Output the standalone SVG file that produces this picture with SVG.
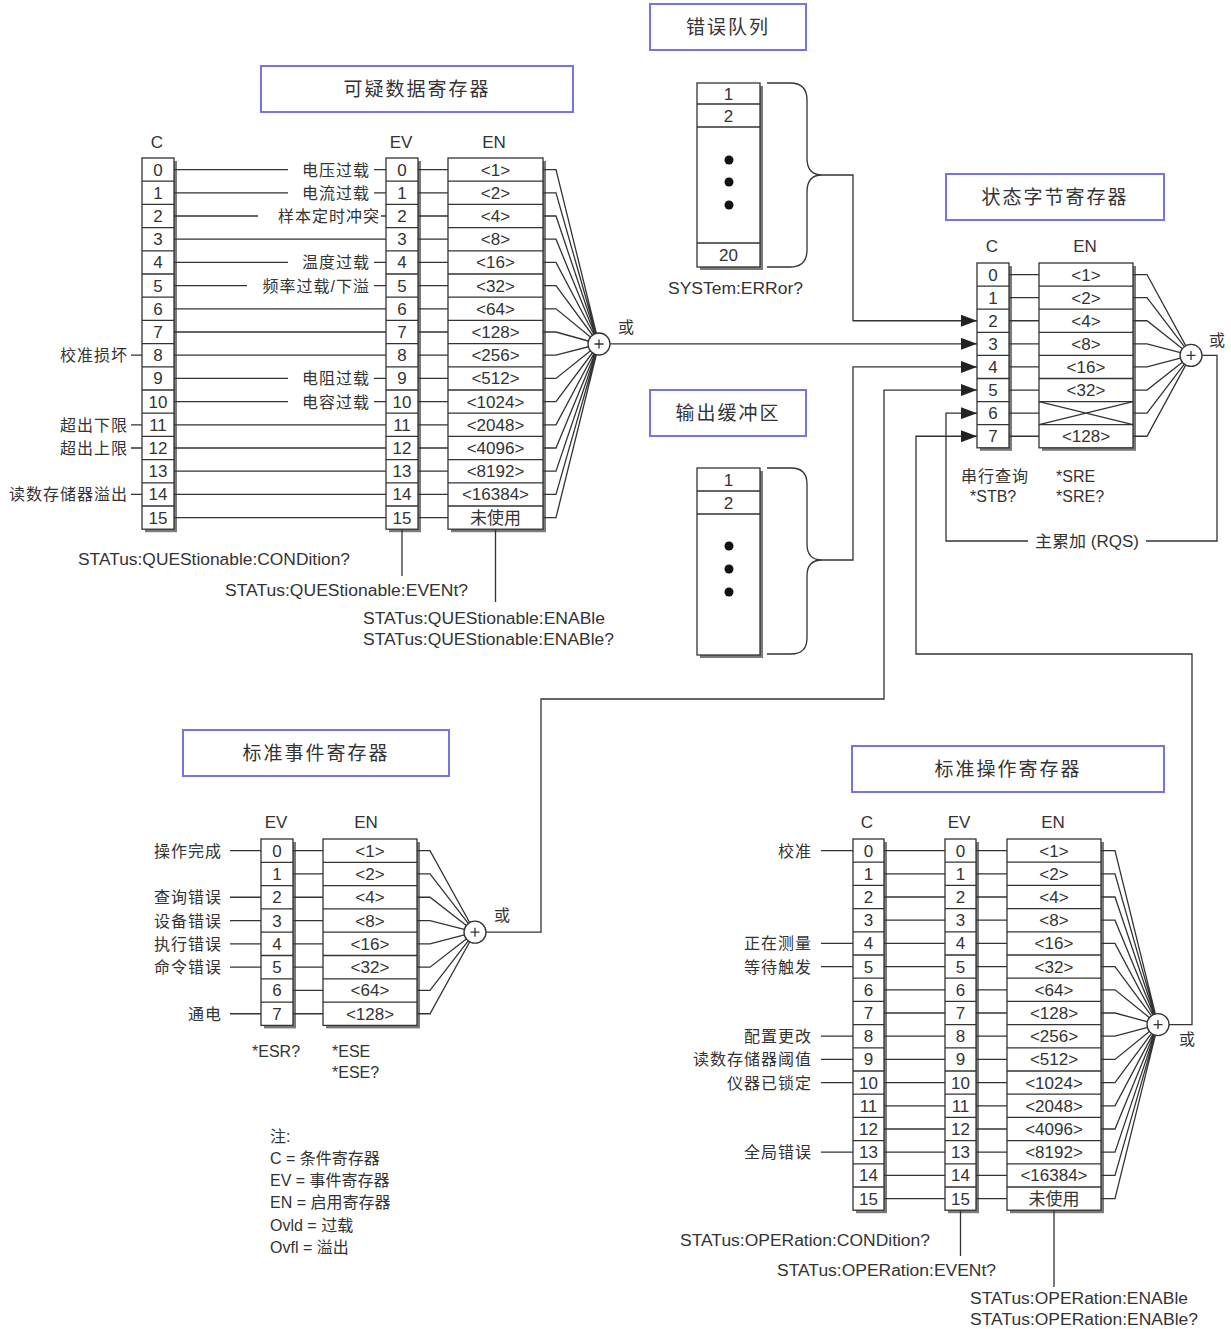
<svg xmlns="http://www.w3.org/2000/svg" width="1231" height="1329" viewBox="0 0 1231 1329">
<style>
text{font-family:"Liberation Sans","Noto Sans CJK SC",Arial,sans-serif;font-size:16px;fill:#333}
.m{text-anchor:middle;font-size:17px}
.e{text-anchor:end}
.zh{letter-spacing:1px}
.ti{font-size:19px;letter-spacing:2px;text-anchor:middle}
.ln{stroke:#333;stroke-width:1.3;fill:none}
.bx{fill:#fff;stroke:#333;stroke-width:1.3}
.sh{fill:#7a7a7a}
.tb{fill:#fff;stroke:#7474e4;stroke-width:2}
.or{fill:#fff;stroke:#333;stroke-width:1.3}
.dot{fill:#111}
</style>
<defs>
<marker id="ah" viewBox="0 0 16 12" refX="16" refY="6" markerWidth="16" markerHeight="12" markerUnits="userSpaceOnUse" orient="auto"><path d="M0,0L16,6L0,12z" fill="#222"/></marker>
</defs>
<rect width="1231" height="1329" fill="#fff"/>

<!-- Title boxes -->
<g id="title-questionable"><rect class="tb" x="261" y="66" width="312" height="46"/><text class="ti" x="417" y="96">可疑数据寄存器</text></g>
<g id="title-error-queue"><rect class="tb" x="650" y="4" width="156" height="46"/><text class="ti" x="728" y="34">错误队列</text></g>
<g id="title-status-byte"><rect class="tb" x="946" y="174" width="218" height="46"/><text class="ti" x="1055" y="204">状态字节寄存器</text></g>
<g id="title-output-buffer"><rect class="tb" x="650" y="390" width="156" height="46"/><text class="ti" x="728" y="420">输出缓冲区</text></g>
<g id="title-std-event"><rect class="tb" x="183" y="730" width="266" height="46"/><text class="ti" x="316" y="760">标准事件寄存器</text></g>
<g id="title-std-operation"><rect class="tb" x="852" y="746" width="312" height="46"/><text class="ti" x="1008" y="776">标准操作寄存器</text></g>

<!-- Questionable data register -->
<g id="questionable-register">
<text class="m" x="157" y="148">C</text><text class="m" x="401" y="148">EV</text><text class="m" x="494" y="148">EN</text>
<rect class="sh" x="145" y="161" width="32" height="371.2"/><rect class="bx" x="142" y="158" width="32" height="371.2"/>
<rect class="sh" x="389" y="161" width="32" height="371.2"/><rect class="bx" x="386" y="158" width="32" height="371.2"/>
<rect class="sh" x="451" y="161" width="95" height="371.2"/><rect class="bx" x="448" y="158" width="95" height="371.2"/>
<path class="ln" d="M142,181.2h32m-32,23.2h32m-32,23.2h32m-32,23.2h32m-32,23.2h32m-32,23.2h32m-32,23.2h32m-32,23.2h32m-32,23.2h32m-32,23.2h32m-32,23.2h32m-32,23.2h32m-32,23.2h32m-32,23.2h32m-32,23.2h32"/>
<path class="ln" d="M386,181.2h32m-32,23.2h32m-32,23.2h32m-32,23.2h32m-32,23.2h32m-32,23.2h32m-32,23.2h32m-32,23.2h32m-32,23.2h32m-32,23.2h32m-32,23.2h32m-32,23.2h32m-32,23.2h32m-32,23.2h32m-32,23.2h32"/>
<path class="ln" d="M448,181.2h95m-95,23.2h95m-95,23.2h95m-95,23.2h95m-95,23.2h95m-95,23.2h95m-95,23.2h95m-95,23.2h95m-95,23.2h95m-95,23.2h95m-95,23.2h95m-95,23.2h95m-95,23.2h95m-95,23.2h95m-95,23.2h95"/>
<text class="m" x="158" y="175.6">0</text><text class="m" x="158" y="198.8">1</text><text class="m" x="158" y="222">2</text><text class="m" x="158" y="245.2">3</text><text class="m" x="158" y="268.4">4</text><text class="m" x="158" y="291.6">5</text><text class="m" x="158" y="314.8">6</text><text class="m" x="158" y="338">7</text><text class="m" x="158" y="361.2">8</text><text class="m" x="158" y="384.4">9</text><text class="m" x="158" y="407.6">10</text><text class="m" x="158" y="430.8">11</text><text class="m" x="158" y="454">12</text><text class="m" x="158" y="477.2">13</text><text class="m" x="158" y="500.4">14</text><text class="m" x="158" y="523.6">15</text>
<text class="m" x="402" y="175.6">0</text><text class="m" x="402" y="198.8">1</text><text class="m" x="402" y="222">2</text><text class="m" x="402" y="245.2">3</text><text class="m" x="402" y="268.4">4</text><text class="m" x="402" y="291.6">5</text><text class="m" x="402" y="314.8">6</text><text class="m" x="402" y="338">7</text><text class="m" x="402" y="361.2">8</text><text class="m" x="402" y="384.4">9</text><text class="m" x="402" y="407.6">10</text><text class="m" x="402" y="430.8">11</text><text class="m" x="402" y="454">12</text><text class="m" x="402" y="477.2">13</text><text class="m" x="402" y="500.4">14</text><text class="m" x="402" y="523.6">15</text>
<text class="m" x="495.5" y="175.6">&lt;1&gt;</text><text class="m" x="495.5" y="198.8">&lt;2&gt;</text><text class="m" x="495.5" y="222">&lt;4&gt;</text><text class="m" x="495.5" y="245.2">&lt;8&gt;</text><text class="m" x="495.5" y="268.4">&lt;16&gt;</text><text class="m" x="495.5" y="291.6">&lt;32&gt;</text><text class="m" x="495.5" y="314.8">&lt;64&gt;</text><text class="m" x="495.5" y="338">&lt;128&gt;</text><text class="m" x="495.5" y="361.2">&lt;256&gt;</text><text class="m" x="495.5" y="384.4">&lt;512&gt;</text><text class="m" x="495.5" y="407.6">&lt;1024&gt;</text><text class="m" x="495.5" y="430.8">&lt;2048&gt;</text><text class="m" x="495.5" y="454">&lt;4096&gt;</text><text class="m" x="495.5" y="477.2">&lt;8192&gt;</text><text class="m" x="495.5" y="500.4">&lt;16384&gt;</text><text class="m" x="495.5" y="523.6">未使用</text>
<text class="e zh" x="370" y="175.6">电压过载</text>
<text class="e zh" x="370" y="198.8">电流过载</text>
<text class="e zh" x="380" y="222">样本定时冲突</text>
<text class="e zh" x="370" y="268.4">温度过载</text>
<text class="e zh" x="370" y="291.6">频率过载/下溢</text>
<text class="e zh" x="370" y="384.4">电阻过载</text>
<text class="e zh" x="370" y="407.6">电容过载</text>
<text class="e zh" x="128" y="361.2">校准损坏</text>
<text class="e zh" x="128" y="430.8">超出下限</text>
<text class="e zh" x="128" y="454">超出上限</text>
<text class="e zh" x="128" y="500.4">读数存储器溢出</text>
<text x="78" y="565" textLength="272" lengthAdjust="spacingAndGlyphs">STATus:QUEStionable:CONDition?</text>
<text x="225" y="596" textLength="243" lengthAdjust="spacingAndGlyphs">STATus:QUEStionable:EVENt?</text>
<text x="363" y="624" textLength="242" lengthAdjust="spacingAndGlyphs">STATus:QUEStionable:ENABle</text>
<text x="363" y="645" textLength="251" lengthAdjust="spacingAndGlyphs">STATus:QUEStionable:ENABle?</text>
<text x="618" y="333">或</text>
</g>

<!-- Error queue -->
<g id="error-queue">
<rect class="sh" x="700" y="86" width="63" height="184"/><rect class="bx" x="697" y="83" width="63" height="184"/>
<path class="ln" d="M697,104h63M697,127h63M697,243h63"/>
<text class="m" x="728.5" y="100">1</text><text class="m" x="728.5" y="121.5">2</text><text class="m" x="728.5" y="261">20</text>
<circle class="dot" cx="729" cy="160" r="4.5"/><circle class="dot" cx="729" cy="182" r="4.5"/><circle class="dot" cx="729" cy="205" r="4.5"/>
<path class="ln" d="M767,83H790Q807,83 807,100V158Q807,175 822,175Q807,175 807,192V250Q807,267 790,267H767"/>
<text x="668" y="294" textLength="135" lengthAdjust="spacingAndGlyphs">SYSTem:ERRor?</text>
</g>

<!-- Output buffer -->
<g id="output-buffer">
<rect class="sh" x="700" y="471" width="63" height="187"/><rect class="bx" x="697" y="468" width="63" height="187"/>
<path class="ln" d="M697,491h63M697,514h63"/>
<text class="m" x="728.5" y="485.5">1</text><text class="m" x="728.5" y="508.5">2</text>
<circle class="dot" cx="729" cy="546" r="4.5"/><circle class="dot" cx="729" cy="569" r="4.5"/><circle class="dot" cx="729" cy="592" r="4.5"/>
<path class="ln" d="M767,468H791Q807,468 807,484V544Q807,560 822,560Q807,560 807,576V638Q807,654 791,654H767"/>
</g>

<!-- Status byte register -->
<g id="status-byte-register">
<text class="m" x="992" y="252">C</text><text class="m" x="1085" y="252">EN</text>
<rect class="sh" x="980" y="266" width="32" height="184.8"/><rect class="bx" x="977" y="263" width="32" height="184.8"/>
<rect class="sh" x="1042" y="266" width="94" height="184.8"/><rect class="bx" x="1039" y="263" width="94" height="184.8"/>
<path class="ln" d="M977,286.1h32m-32,23.1h32m-32,23.1h32m-32,23.1h32m-32,23.1h32m-32,23.1h32m-32,23.1h32"/>
<path class="ln" d="M1039,286.1h94m-94,23.1h94m-94,23.1h94m-94,23.1h94m-94,23.1h94m-94,23.1h94m-94,23.1h94"/>
<path class="ln" d="M1039,401.6L1133,424.7M1039,424.7L1133,401.6"/>
<text class="m" x="993" y="280.5">0</text><text class="m" x="993" y="303.6">1</text><text class="m" x="993" y="326.7">2</text><text class="m" x="993" y="349.8">3</text><text class="m" x="993" y="372.9">4</text><text class="m" x="993" y="396">5</text><text class="m" x="993" y="419.1">6</text><text class="m" x="993" y="442.2">7</text>
<text class="m" x="1086" y="280.5">&lt;1&gt;</text><text class="m" x="1086" y="303.6">&lt;2&gt;</text><text class="m" x="1086" y="326.7">&lt;4&gt;</text><text class="m" x="1086" y="349.8">&lt;8&gt;</text><text class="m" x="1086" y="372.9">&lt;16&gt;</text><text class="m" x="1086" y="396">&lt;32&gt;</text><text class="m" x="1086" y="442.2">&lt;128&gt;</text>
<text class="zh" x="961" y="482">串行查询</text>
<text x="970" y="502">*STB?</text>
<text x="1056" y="482">*SRE</text>
<text x="1056" y="502">*SRE?</text>
<text x="1209" y="346">或</text>
</g>

<!-- Standard event register -->
<g id="std-event-register">
<text class="m" x="276" y="828">EV</text><text class="m" x="366" y="828">EN</text>
<rect class="sh" x="264" y="842" width="32" height="186.4"/><rect class="bx" x="261" y="839" width="32" height="186.4"/>
<rect class="sh" x="326" y="842" width="94" height="186.4"/><rect class="bx" x="323" y="839" width="94" height="186.4"/>
<path class="ln" d="M261,862.3h32m-32,23.3h32m-32,23.3h32m-32,23.3h32m-32,23.3h32m-32,23.3h32m-32,23.3h32"/>
<path class="ln" d="M323,862.3h94m-94,23.3h94m-94,23.3h94m-94,23.3h94m-94,23.3h94m-94,23.3h94m-94,23.3h94"/>
<text class="m" x="277" y="856.6">0</text><text class="m" x="277" y="879.9">1</text><text class="m" x="277" y="903.2">2</text><text class="m" x="277" y="926.5">3</text><text class="m" x="277" y="949.8">4</text><text class="m" x="277" y="973.1">5</text><text class="m" x="277" y="996.4">6</text><text class="m" x="277" y="1019.7">7</text>
<text class="m" x="370" y="856.6">&lt;1&gt;</text><text class="m" x="370" y="879.9">&lt;2&gt;</text><text class="m" x="370" y="903.2">&lt;4&gt;</text><text class="m" x="370" y="926.5">&lt;8&gt;</text><text class="m" x="370" y="949.8">&lt;16&gt;</text><text class="m" x="370" y="973.1">&lt;32&gt;</text><text class="m" x="370" y="996.4">&lt;64&gt;</text><text class="m" x="370" y="1019.7">&lt;128&gt;</text>
<text class="e zh" x="222" y="856.65">操作完成</text>
<text class="e zh" x="222" y="903.25">查询错误</text>
<text class="e zh" x="222" y="926.55">设备错误</text>
<text class="e zh" x="222" y="949.85">执行错误</text>
<text class="e zh" x="222" y="973.15">命令错误</text>
<text class="e zh" x="222" y="1019.75">通电</text>
<path class="ln" d="M230,850.65H261M230,897.25H261M230,920.55H261M230,943.85H261M230,967.15H261M230,1013.75H261"/>
<text x="252" y="1057">*ESR?</text>
<text x="332" y="1057">*ESE</text>
<text x="332" y="1078">*ESE?</text>
<text x="494" y="921">或</text>
</g>

<!-- Standard operation register -->
<g id="std-operation-register">
<text class="m" x="867" y="828">C</text><text class="m" x="959" y="828">EV</text><text class="m" x="1053" y="828">EN</text>
<rect class="sh" x="856" y="842" width="31" height="371.2"/><rect class="bx" x="853" y="839" width="31" height="371.2"/>
<rect class="sh" x="948" y="842" width="31" height="371.2"/><rect class="bx" x="945" y="839" width="31" height="371.2"/>
<rect class="sh" x="1010" y="842" width="94" height="371.2"/><rect class="bx" x="1007" y="839" width="94" height="371.2"/>
<path class="ln" d="M853,862.2h31m-31,23.2h31m-31,23.2h31m-31,23.2h31m-31,23.2h31m-31,23.2h31m-31,23.2h31m-31,23.2h31m-31,23.2h31m-31,23.2h31m-31,23.2h31m-31,23.2h31m-31,23.2h31m-31,23.2h31m-31,23.2h31"/>
<path class="ln" d="M945,862.2h31m-31,23.2h31m-31,23.2h31m-31,23.2h31m-31,23.2h31m-31,23.2h31m-31,23.2h31m-31,23.2h31m-31,23.2h31m-31,23.2h31m-31,23.2h31m-31,23.2h31m-31,23.2h31m-31,23.2h31m-31,23.2h31"/>
<path class="ln" d="M1007,862.2h94m-94,23.2h94m-94,23.2h94m-94,23.2h94m-94,23.2h94m-94,23.2h94m-94,23.2h94m-94,23.2h94m-94,23.2h94m-94,23.2h94m-94,23.2h94m-94,23.2h94m-94,23.2h94m-94,23.2h94m-94,23.2h94"/>
<text class="m" x="868.5" y="856.6">0</text><text class="m" x="868.5" y="879.8">1</text><text class="m" x="868.5" y="903">2</text><text class="m" x="868.5" y="926.2">3</text><text class="m" x="868.5" y="949.4">4</text><text class="m" x="868.5" y="972.6">5</text><text class="m" x="868.5" y="995.8">6</text><text class="m" x="868.5" y="1019">7</text><text class="m" x="868.5" y="1042.2">8</text><text class="m" x="868.5" y="1065.4">9</text><text class="m" x="868.5" y="1088.6">10</text><text class="m" x="868.5" y="1111.8">11</text><text class="m" x="868.5" y="1135">12</text><text class="m" x="868.5" y="1158.2">13</text><text class="m" x="868.5" y="1181.4">14</text><text class="m" x="868.5" y="1204.6">15</text>
<text class="m" x="960.5" y="856.6">0</text><text class="m" x="960.5" y="879.8">1</text><text class="m" x="960.5" y="903">2</text><text class="m" x="960.5" y="926.2">3</text><text class="m" x="960.5" y="949.4">4</text><text class="m" x="960.5" y="972.6">5</text><text class="m" x="960.5" y="995.8">6</text><text class="m" x="960.5" y="1019">7</text><text class="m" x="960.5" y="1042.2">8</text><text class="m" x="960.5" y="1065.4">9</text><text class="m" x="960.5" y="1088.6">10</text><text class="m" x="960.5" y="1111.8">11</text><text class="m" x="960.5" y="1135">12</text><text class="m" x="960.5" y="1158.2">13</text><text class="m" x="960.5" y="1181.4">14</text><text class="m" x="960.5" y="1204.6">15</text>
<text class="m" x="1054" y="856.6">&lt;1&gt;</text><text class="m" x="1054" y="879.8">&lt;2&gt;</text><text class="m" x="1054" y="903">&lt;4&gt;</text><text class="m" x="1054" y="926.2">&lt;8&gt;</text><text class="m" x="1054" y="949.4">&lt;16&gt;</text><text class="m" x="1054" y="972.6">&lt;32&gt;</text><text class="m" x="1054" y="995.8">&lt;64&gt;</text><text class="m" x="1054" y="1019">&lt;128&gt;</text><text class="m" x="1054" y="1042.2">&lt;256&gt;</text><text class="m" x="1054" y="1065.4">&lt;512&gt;</text><text class="m" x="1054" y="1088.6">&lt;1024&gt;</text><text class="m" x="1054" y="1111.8">&lt;2048&gt;</text><text class="m" x="1054" y="1135">&lt;4096&gt;</text><text class="m" x="1054" y="1158.2">&lt;8192&gt;</text><text class="m" x="1054" y="1181.4">&lt;16384&gt;</text><text class="m" x="1054" y="1204.6">未使用</text>
<text class="e zh" x="812" y="856.6">校准</text>
<text class="e zh" x="812" y="949.4">正在测量</text>
<text class="e zh" x="812" y="972.6">等待触发</text>
<text class="e zh" x="812" y="1042.2">配置更改</text>
<text class="e zh" x="812" y="1065.4">读数存储器阈值</text>
<text class="e zh" x="812" y="1088.6">仪器已锁定</text>
<text class="e zh" x="812" y="1158.2">全局错误</text>
<path class="ln" d="M821,850.6H853M821,943.4H853M821,966.6H853M821,1036.2H853M821,1059.4H853M821,1082.6H853M821,1152.2H853"/>
<text x="680" y="1246" textLength="250" lengthAdjust="spacingAndGlyphs">STATus:OPERation:CONDition?</text>
<text x="777" y="1276" textLength="219" lengthAdjust="spacingAndGlyphs">STATus:OPERation:EVENt?</text>
<text x="970" y="1304" textLength="218" lengthAdjust="spacingAndGlyphs">STATus:OPERation:ENABle</text>
<text x="970" y="1325" textLength="228" lengthAdjust="spacingAndGlyphs">STATus:OPERation:ENABle?</text>
<text x="1179" y="1045">或</text>
</g>

<!-- Notes -->
<g id="notes">
<text x="270" y="1142">注:</text>
<text x="270" y="1164">C = 条件寄存器</text>
<text x="270" y="1186">EV = 事件寄存器</text>
<text x="270" y="1208">EN = 启用寄存器</text>
<text x="270" y="1231">Ovld = 过载</text>
<text x="270" y="1253">Ovfl = 溢出</text>
</g>

<!-- Connectors -->
<g id="connectors">
<path class="ln" d="M174,169.6H288M374,169.6H386M174,192.8H288M374,192.8H386M174,216H258M381,216H386M174,239.2H386M174,262.4H288M374,262.4H386M174,285.6H247M374,285.6H386M174,308.8H386M174,332H386M174,355.2H386M174,378.4H288M374,378.4H386M174,401.6H288M374,401.6H386M174,424.8H386M174,448H386M174,471.2H386M174,494.4H386M174,517.6H386"/>
<path class="ln" d="M131,355.2H142M131,424.8H142M131,448H142M131,494.4H142"/>
<path class="ln" d="M418,169.6H448M418,192.8H448M418,216H448M418,239.2H448M418,262.4H448M418,285.6H448M418,308.8H448M418,332H448M418,355.2H448M418,378.4H448M418,401.6H448M418,424.8H448M418,448H448M418,471.2H448M418,494.4H448M418,517.6H448"/>
<path class="ln" d="M543,169.6H556L599,344M543,192.8H556L599,344M543,216H556L599,344M543,239.2H556L599,344M543,262.4H556L599,344M543,285.6H556L599,344M543,308.8H556L599,344M543,332H556L599,344M543,355.2H556L599,344M543,378.4H556L599,344M543,401.6H556L599,344M543,424.8H556L599,344M543,448H556L599,344M543,471.2H556L599,344M543,494.4H556L599,344M543,517.6H556L599,344"/>
<circle class="or" cx="599" cy="344" r="11"/><path class="ln" d="M594.5,344h9M599,339.5v9"/>
<path class="ln" d="M402,529.2V576M495.5,529.2V602"/>
<path class="ln" d="M610,343.85H977" marker-end="url(#ah)"/>
<path class="ln" d="M822,175H853V320.75H977" marker-end="url(#ah)"/>
<path class="ln" d="M822,560H853V366.95H977" marker-end="url(#ah)"/>
<path class="ln" d="M486,932.2H541V699H884V390.05H977" marker-end="url(#ah)"/>
<path class="ln" d="M1169,1024.6H1192V654H916V436.25H977" marker-end="url(#ah)"/>
<path class="ln" d="M1009,274.55H1039M1009,297.65H1039M1009,320.75H1039M1009,343.85H1039M1009,366.95H1039M1009,390.05H1039M1009,413.15H1039M1009,436.25H1039"/>
<path class="ln" d="M1133,274.55H1147L1191,355.4M1133,297.65H1147L1191,355.4M1133,320.75H1147L1191,355.4M1133,343.85H1147L1191,355.4M1133,366.95H1147L1191,355.4M1133,390.05H1147L1191,355.4M1133,413.15H1147L1191,355.4M1133,436.25H1147L1191,355.4"/>
<circle class="or" cx="1191" cy="355.4" r="11"/><path class="ln" d="M1186.5,355.4h9M1191,350.9v9"/>
<path class="ln" d="M1202,355.4H1217V541H1146"/>
<path class="ln" d="M1028,541H946V413.15H977" marker-end="url(#ah)"/>
<text x="1087" y="547" text-anchor="middle" textLength="104" lengthAdjust="spacingAndGlyphs">主累加 (RQS)</text>
<path class="ln" d="M293,850.65H323M293,873.95H323M293,897.25H323M293,920.55H323M293,943.85H323M293,967.15H323M293,990.45H323M293,1013.75H323"/>
<path class="ln" d="M417,850.65H430L475,932.2M417,873.95H430L475,932.2M417,897.25H430L475,932.2M417,920.55H430L475,932.2M417,943.85H430L475,932.2M417,967.15H430L475,932.2M417,990.45H430L475,932.2M417,1013.75H430L475,932.2"/>
<circle class="or" cx="475" cy="932.2" r="11"/><path class="ln" d="M470.5,932.2h9M475,927.7v9"/>
<path class="ln" d="M884,850.6H945M884,873.8H945M884,897H945M884,920.2H945M884,943.4H945M884,966.6H945M884,989.8H945M884,1013H945M884,1036.2H945M884,1059.4H945M884,1082.6H945M884,1105.8H945M884,1129H945M884,1152.2H945M884,1175.4H945M884,1198.6H945"/>
<path class="ln" d="M976,850.6H1007M976,873.8H1007M976,897H1007M976,920.2H1007M976,943.4H1007M976,966.6H1007M976,989.8H1007M976,1013H1007M976,1036.2H1007M976,1059.4H1007M976,1082.6H1007M976,1105.8H1007M976,1129H1007M976,1152.2H1007M976,1175.4H1007M976,1198.6H1007"/>
<path class="ln" d="M1101,850.6H1115L1158,1024.6M1101,873.8H1115L1158,1024.6M1101,897H1115L1158,1024.6M1101,920.2H1115L1158,1024.6M1101,943.4H1115L1158,1024.6M1101,966.6H1115L1158,1024.6M1101,989.8H1115L1158,1024.6M1101,1013H1115L1158,1024.6M1101,1036.2H1115L1158,1024.6M1101,1059.4H1115L1158,1024.6M1101,1082.6H1115L1158,1024.6M1101,1105.8H1115L1158,1024.6M1101,1129H1115L1158,1024.6M1101,1152.2H1115L1158,1024.6M1101,1175.4H1115L1158,1024.6M1101,1198.6H1115L1158,1024.6"/>
<circle class="or" cx="1158" cy="1024.6" r="11"/><path class="ln" d="M1153.5,1024.6h9M1158,1020.1v9"/>
<path class="ln" d="M960.5,1210.2V1256M1054,1210.2V1287"/>
</g>
</svg>
